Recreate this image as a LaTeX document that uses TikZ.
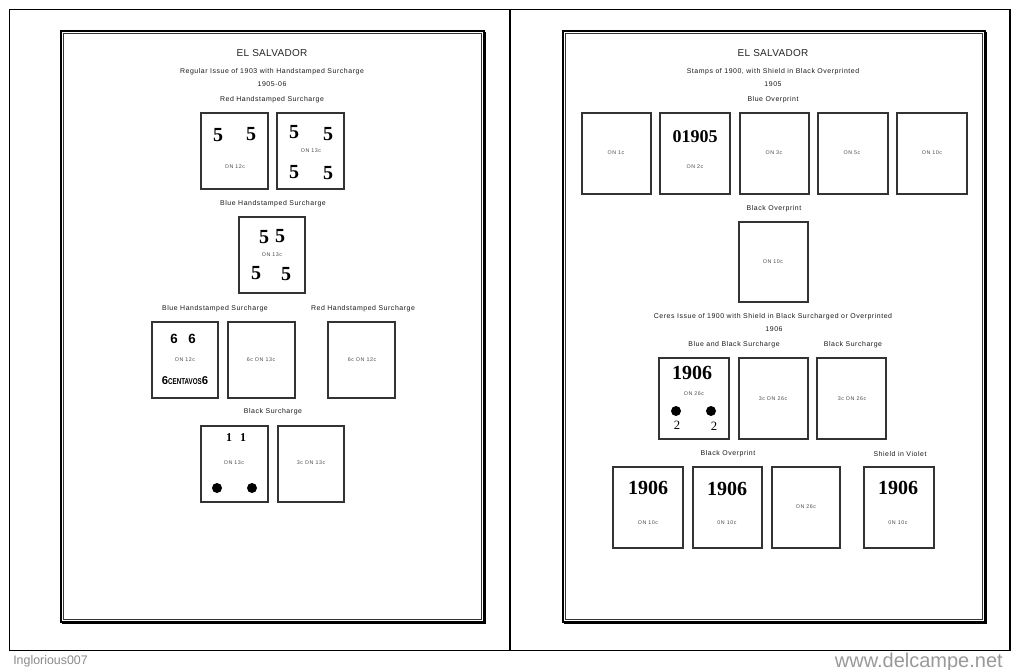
\documentclass[tikz,border=0pt]{standalone}
\usepackage{fontspec}
\setmainfont{Liberation Sans}
\usetikzlibrary{fit}
\newfontfamily\titlefont[LetterSpace=3]{Liberation Sans}
\newfontfamily\labfont[LetterSpace=8]{Liberation Sans}
\newfontfamily\tinyfont[LetterSpace=10]{Liberation Sans}
\newfontfamily\digfont{Liberation Serif}
\newfontfamily\markfont{Liberation Sans}
\tikzset{
  stamp/.style={draw=black!80, line width=0.8pt, inner sep=0pt},
  head/.style={font=\titlefont\fontsize{7.5}{9}\selectfont, text=black!85, inner sep=0pt},
  lab/.style={font=\labfont\fontsize{5.2}{6}\selectfont, text=black!90, inner sep=0pt},
  val/.style={font=\tinyfont\fontsize{4}{4.5}\selectfont, text=black!70, inner sep=0pt},
  big/.style={font=\digfont\bfseries\fontsize{15}{15}\selectfont, inner sep=0pt},
  mid/.style={font=\digfont\bfseries\fontsize{9}{9}\selectfont, inner sep=0pt},
  sixes/.style={font=\markfont\bfseries\fontsize{10}{10}\selectfont, inner sep=0pt},
  dot/.style={circle, fill=black, minimum size=7.5pt, inner sep=0pt},
  frameout/.style={line width=1.6pt, draw=black},
  framein/.style={line width=0.6pt, draw=black!80},
  wmark/.style={font=\markfont, text=black!45, inner sep=0pt},
}
\begin{document}
\begin{tikzpicture}[x=0.75pt,y=-0.75pt]
\path[fill=white] (0,0) rectangle (1020,670);
\useasboundingbox (0,0) rectangle (1020,670);
% outer sheet
\draw[line width=0.8pt] (9.5,9.5) rectangle (1010,650.5);
\draw[line width=0.8pt] (510,9.5) -- (510,650.5);
% left page frame
\draw[frameout] (61,31) rectangle (484,622);
\draw[line width=1.2pt] (485,32) -- (485,623.5) -- (62,623.5);
\draw[framein] (63.8,33.8) rectangle (481.2,619.2);
% right page frame
\draw[frameout] (563,31) rectangle (985,622);
\draw[line width=1.2pt] (986,32) -- (986,623.5) -- (564,623.5);
\draw[framein] (565.8,33.8) rectangle (982.2,619.2);

%================ LEFT PAGE
\node[head] (lt) at (272,53) {EL SALVADOR};
\node[lab] (lt1) at (272,72) {Regular Issue of 1903 with Handstamped Surcharge};
\node[lab] (lt2) at (272,84) {1905-06};
\node[lab] (lh1) at (272,100) {Red Handstamped Surcharge};

\node[stamp, fit={(201,113) (268,189)}] (s1) {};
\node[big] (s1a) at (218,135) {5};
\node[big] (s1b) at (251,134) {5};
\node[val] (s1c) at (235,167) {ON 12c};

\node[stamp, fit={(277,113) (344,189)}] (s2) {};
\node[big] (s2a) at (294,132) {5};
\node[big] (s2b) at (328,134) {5};
\node[val] (s2c) at (311,151) {ON 13c};
\node[big] (s2d) at (294,172) {5};
\node[big] (s2e) at (328,173) {5};

\node[lab] (lh2) at (273,204) {Blue Handstamped Surcharge};
\node[stamp, fit={(239,217) (305,293)}] (s3) {};
\node[big] (s3a) at (264,237) {5};
\node[big] (s3b) at (280,236) {5};
\node[val] (s3c) at (272,255) {ON 13c};
\node[big] (s3d) at (256,273) {5};
\node[big] (s3e) at (286,274) {5};

\node[lab] (lh3) at (215,309) {Blue Handstamped Surcharge};
\node[lab] (lh4) at (363,309) {Red Handstamped Surcharge};

\node[stamp, fit={(152,322) (218,398)}] (s4) {};
\node[sixes] (s4a) at (174,339) {6};
\node[sixes] (s4b) at (192,339) {6};
\node[val] (s4c) at (185,360) {ON 12c};
\node[sixes, font=\markfont\bfseries\fontsize{8.5}{8.5}\selectfont] (s4d) at (185,381) {6\scalebox{0.55}[0.75]{CENTAVOS}6};

\node[stamp, fit={(228,322) (295,398)}] (s5) {};
\node[val] (s5a) at (261,360) {6c ON 13c};

\node[stamp, fit={(328,322) (395,398)}] (s6) {};
\node[val] (s6a) at (362,360) {6c ON 12c};

\node[lab] (lh5) at (273,412) {Black Surcharge};
\node[stamp, fit={(201,426) (268,502)}] (s7) {};
\node[mid] (s7a) at (229,438) {1};
\node[mid] (s7b) at (243,438) {1};
\node[val] (s7c) at (234,463) {ON 13c};
\node[dot] (s7d) at (217,488) {};
\node[dot] (s7e) at (252,488) {};

\node[stamp, fit={(278,426) (344,502)}] (s8) {};
\node[val] (s8a) at (311,463) {3c ON 13c};

%================ RIGHT PAGE
\node[head] (rt) at (773,53) {EL SALVADOR};
\node[lab] (rt1) at (773,72) {Stamps of 1900, with Shield in Black Overprinted};
\node[lab] (rt2) at (773,84) {1905};
\node[lab] (rh1) at (773,100) {Blue Overprint};

\node[stamp, fit={(582,113) (651,194)}] (r1) {};
\node[val] (r1a) at (616,153) {ON 1c};
\node[stamp, fit={(660,113) (730,194)}] (r2) {};
\node[big, font=\digfont\bfseries\fontsize{13.5}{13.5}\selectfont] (r2a) at (695,137) {01905};
\node[val] (r2b) at (695,167) {ON 2c};
\node[stamp, fit={(740,113) (809,194)}] (r3) {};
\node[val] (r3a) at (774,153) {ON 3c};
\node[stamp, fit={(818,113) (888,194)}] (r4) {};
\node[val] (r4a) at (852,153) {ON 5c};
\node[stamp, fit={(897,113) (967,194)}] (r5) {};
\node[val] (r5a) at (932,153) {ON 10c};

\node[lab] (rh2) at (774,209) {Black Overprint};
\node[stamp, fit={(739,222) (808,302)}] (r6) {};
\node[val] (r6a) at (773,262) {ON 10c};

\node[lab] (rt3) at (773,317) {Ceres Issue of 1900 with Shield in Black Surcharged or Overprinted};
\node[lab] (rt4) at (774,329) {1906};
\node[lab] (rh3) at (734,345) {Blue and Black Surcharge};
\node[lab] (rh4) at (853,345) {Black Surcharge};

\node[stamp, fit={(659,358) (729,439)}] (r7) {};
\node[big] (r7a) at (692,373) {1906};
\node[val] (r7b) at (694,394) {ON 26c};
\node[dot] (r7c) at (676,411) {};
\node[dot] (r7d) at (711,411) {};
\node[mid, font=\digfont\fontsize{9.5}{9.5}\selectfont] (r7e) at (677,425) {2};
\node[mid, font=\digfont\fontsize{9.5}{9.5}\selectfont] (r7f) at (714,426) {2};

\node[stamp, fit={(739,358) (808,439)}] (r8) {};
\node[val] (r8a) at (773,399) {3c ON 26c};
\node[stamp, fit={(817,358) (886,439)}] (r9) {};
\node[val] (r9a) at (852,399) {3c ON 26c};

\node[lab] (rh5) at (728,454) {Black Overprint};
\node[lab] (rh6) at (900,454) {Shield in Violet};

\node[stamp, fit={(613,467) (683,548)}] (r10) {};
\node[big] (r10a) at (648,488) {1906};
\node[val] (r10b) at (648,523) {ON 10c};
\node[stamp, fit={(693,467) (762,548)}] (r11) {};
\node[big] (r11a) at (727,489) {1906};
\node[val] (r11b) at (727,523) {0N 10c};
\node[stamp, fit={(772,467) (840,548)}] (r12) {};
\node[val] (r12a) at (806,507) {ON 26c};
\node[stamp, fit={(864,467) (934,548)}] (r13) {};
\node[big] (r13a) at (898,488) {1906};
\node[val] (r13b) at (898,523) {0N 10c};

% watermark
\node[wmark, font=\markfont\fontsize{9.3}{10}\selectfont, anchor=west] (wm1) at (13,661) {Inglorious007};
\node[wmark, font=\markfont\fontsize{15}{16}\selectfont, anchor=east, text=black!40] (wm2) at (1003,662) {www.delcampe.net};
\end{tikzpicture}
\end{document}
